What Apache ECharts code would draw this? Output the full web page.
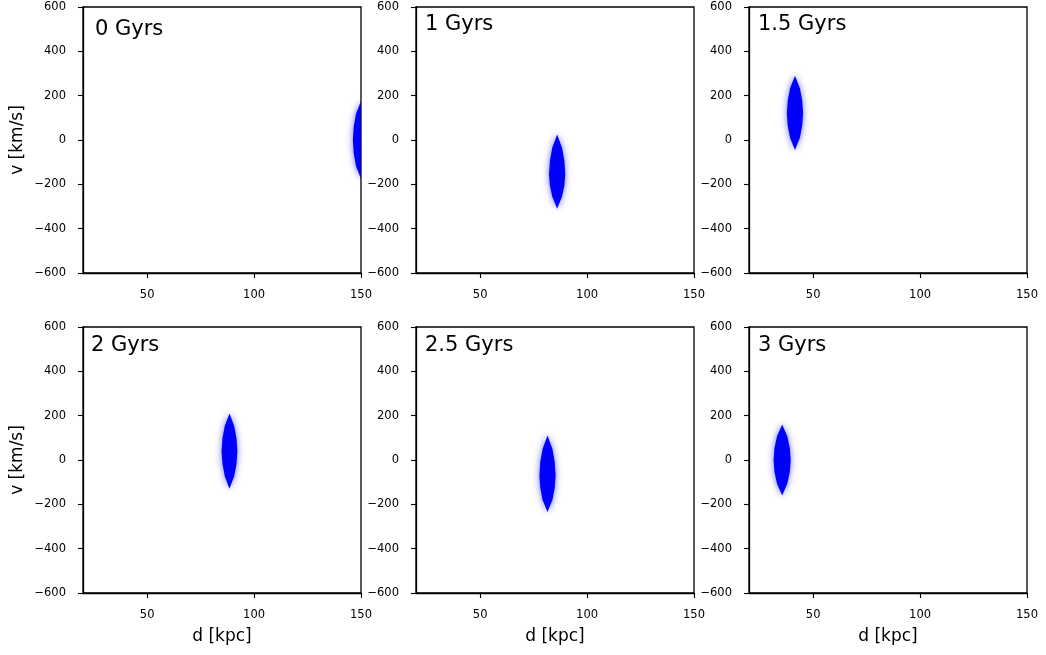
<!DOCTYPE html>
<html><head><meta charset="utf-8">
<script src="https://cdn.jsdelivr.net/npm/echarts@6/dist/echarts.min.js"></script>
<style>html,body{margin:0;padding:0;background:#fff}#c{width:1046px;height:655px}</style>
</head><body><div id="c"></div>
<script>
// Panel labels
const panelTitles = ['0 Gyrs', '1 Gyrs', '1.5 Gyrs', '2 Gyrs', '2.5 Gyrs', '3 Gyrs'];
// Tick values
const xTicks = [50, 100, 150];
const yTicks = [-600, -400, -200, 0, 200, 400, 600];
// Blob outlines: [d (kpc), v (km/s)]
const blob0 = [[150,175],[152.3,120],[153.4,60],[153.8,0],[153.4,-60],[152.3,-120],[150,-175],[147.7,-120],[146.6,-60],[146.2,0],[146.6,60],[147.7,120]];
const blob1 = [[86,25],[88.3,-35],[89.4,-95],[89.8,-155],[89.4,-205],[88.3,-255],[86,-310],[83.7,-255],[82.6,-205],[82.2,-155],[82.6,-95],[83.7,-35]];
const blob2 = [[41.5,290],[43.8,233],[44.9,177],[45.3,120],[44.9,65],[43.8,10],[41.5,-45],[39.2,10],[38.1,65],[37.7,120],[38.1,177],[39.2,233]];
const blob3 = [[88.5,210],[90.7,153],[91.8,97],[92.2,40],[91.8,-17],[90.7,-73],[88.5,-130],[86.3,-73],[85.2,-17],[84.8,40],[85.2,97],[86.3,153]];
const blob4 = [[81.5,110],[83.8,50],[84.9,-10],[85.3,-70],[84.9,-125],[83.8,-180],[81.5,-235],[79.2,-180],[78.1,-125],[77.7,-70],[78.1,-10],[79.2,50]];
const blob5 = [[35.5,160],[37.9,107],[39.1,53],[39.5,0],[39.1,-53],[37.9,-107],[35.5,-160],[33.1,-107],[31.9,-53],[31.5,0],[31.9,53],[33.1,107]];
const blobs = [blob0, blob1, blob2, blob3, blob4, blob5];

const font = 'DejaVu Sans';
const lefts = [83, 416, 749];
const tops = [7, 327];
const W = 278, H = 266;

const grids = [], xAxes = [], yAxes = [], series = [], titles = [];
const titlePos = [[95, 19], [425, 14], [758, 14], [91, 335], [425, 335], [758, 335]];
for (let i = 0; i < 6; i++) {
  const r = Math.floor(i / 3), c = i % 3;
  grids.push({left: lefts[c], top: tops[r], width: W, height: H, show: true, borderColor: '#000', borderWidth: 1.3, backgroundColor: '#fff'});
  xAxes.push({
    gridIndex: i, type: 'value', min: 20, max: 150,
    name: r === 1 ? 'd [kpc]' : '', nameLocation: 'middle', nameGap: 35,
    nameTextStyle: {fontFamily: font, fontSize: 17, color: '#000'},
    axisLine: {show: true, onZero: false, lineStyle: {color: '#000', width: 1.3}},
    axisTick: {show: true, length: 5, lineStyle: {color: '#000', width: 1.1}, customValues: xTicks},
    axisLabel: {fontFamily: font, fontSize: 11.5, color: '#000', margin: 16, customValues: xTicks, showMinLabel: true, showMaxLabel: true},
    splitLine: {show: false}
  });
  yAxes.push({
    gridIndex: i, type: 'value', min: -600, max: 600, interval: 200,
    name: c === 0 ? 'v [km/s]' : '', nameLocation: 'middle', nameGap: 57, nameRotate: 90,
    nameTextStyle: {fontFamily: font, fontSize: 17, color: '#000'},
    axisLine: {show: true, onZero: false, lineStyle: {color: '#000', width: 1.3}},
    axisTick: {show: true, length: 5, lineStyle: {color: '#000', width: 1.1}},
    axisLabel: {fontFamily: font, fontSize: 11.5, color: '#000', margin: 17, formatter: v => String(v).replace('-', '\u2212')},
    splitLine: {show: false}
  });
  const pts = blobs[i];
  series.push({
    type: 'custom', xAxisIndex: i, yAxisIndex: i, clip: true,
    data: pts,
    renderItem: function (params, api) {
      if (params.dataIndex !== 0) return null;
      const cs = params.coordSys;
      const points = pts.map(p => api.coord(p));
      return {
        type: 'group',
        clipPath: {type: 'rect', shape: {x: cs.x, y: cs.y, width: cs.width, height: cs.height}},
        children: [{
          type: 'polygon',
          shape: {points: points},
          style: {fill: '#0000ff', shadowBlur: 7, shadowColor: 'rgba(0,0,255,0.55)'}
        }]
      };
    }
  });
  titles.push({text: panelTitles[i], left: titlePos[i][0], top: titlePos[i][1], padding: 0,
    textStyle: {fontFamily: font, fontSize: 21, fontWeight: 'normal', color: '#000'}});
}

const chart = echarts.init(document.getElementById('c'), null, {renderer: 'canvas'});
chart.setOption({
  animation: false,
  backgroundColor: '#fff',
  title: titles,
  grid: grids, xAxis: xAxes, yAxis: yAxes, series: series
});
</script></body></html>
